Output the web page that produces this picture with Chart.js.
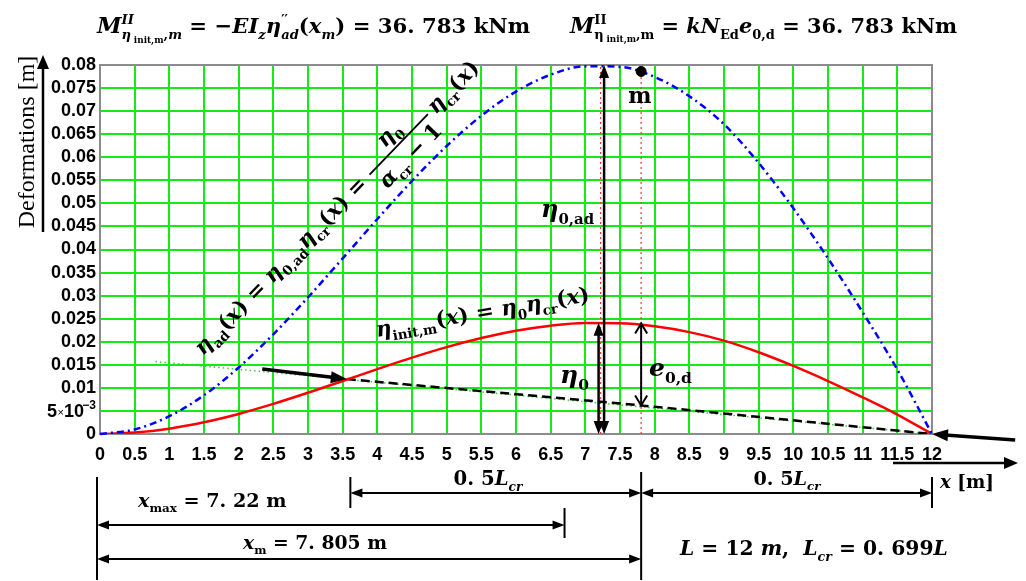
<!DOCTYPE html>
<html>
<head>
<meta charset="utf-8">
<script src="https://cdn.jsdelivr.net/npm/chart.js@4.4.0/dist/chart.umd.min.js"></script>
<style>
  html, body { margin: 0; padding: 0; background: #fff; }
  #chart { display: block; }
</style>
</head>
<body>
<canvas id="chart" width="1026" height="581"></canvas>
<script>
// beam coordinate [m], one sample every 0.5 m
const xValues = [0, 0.5, 1, 1.5, 2, 2.5, 3, 3.5, 4, 4.5, 5, 5.5, 6, 6.5, 7, 7.5, 8, 8.5, 9, 9.5, 10, 10.5, 11, 11.5, 12];
// initial imperfection eta_init,m(x) [m] (red)
const etaInit = [0, 0.0003, 0.00116, 0.00254, 0.00435, 0.00652, 0.00894, 0.01148, 0.01406, 0.01655, 0.01883, 0.02081, 0.02239,
  0.02349, 0.02405, 0.02401, 0.02335, 0.02209, 0.02025, 0.01773, 0.01476, 0.01148, 0.00796, 0.00422, 0];
// additional deformation eta_ad(x) [m] (blue, dash-dot)
const etaAd = [0, 0.00099, 0.00385, 0.00841, 0.01442, 0.02162, 0.02963, 0.03806, 0.04661, 0.05486, 0.06244, 0.069, 0.07424,
  0.07789, 0.07974, 0.07961, 0.07741, 0.07323, 0.06715, 0.05877, 0.04893, 0.03807, 0.02639, 0.01398, 0];
// straight reference line towards the support (green dots) and its black dashed part
const tangentX = [0.8, 12];
const tangentY = [0.0157, 0];
const dashedX = [3.56, 7.805, 12];
const dashedY = [0.0119, 0.0062, 0];
// point m on the blue curve
const pointMX = [7.805];
const pointMY = [0.0786];
// tick labels ('5×10⁻³' is drawn by hand so the exponent can be raised)
const xTickLabels = ['0', '0.5', '1', '1.5', '2', '2.5', '3', '3.5', '4', '4.5', '5', '5.5', '6', '6.5', '7', '7.5', '8', '8.5',
  '9', '9.5', '10', '10.5', '11', '11.5', '12'];
const yTickLabels = ['0', '5×10⁻³', '0.01', '0.015', '0.02', '0.025', '0.03', '0.035', '0.04', '0.045', '0.05', '0.055', '0.06',
  '0.065', '0.07', '0.075', '0.08'];
// marked positions
const xMax = 7.22;
const xM = 7.805;
const eta0Peak = 0.0241;
const eta0adPeak = 0.08;
// dimension lines under the axis, in x [m] as drawn in the figure
const dimX = [0, 3.611, 6.7, 7.805, 12];

const SERIF = '"DejaVu Serif", "Liberation Serif", serif';
const SANS = '"Liberation Sans", Arial, sans-serif';

// ---- small rich-text helper: runs are [text, style, scale, dy(em), stackOnPrevious]
function fontOf(run, size) {
  const f = run[1] || '';
  const px = Math.round(size * (run[2] || 1) * 10) / 10;
  return (f.includes('i') ? 'italic ' : '') + (f.includes('b') ? 'bold ' : '') + px + 'px ' + SERIF;
}

function layoutRich(ctx, runs, size) {
  let cx = 0, last = 0, end = 0;
  const items = [];
  runs.forEach(r => {
    const font = fontOf(r, size);
    ctx.font = font;
    const w = ctx.measureText(r[0]).width;
    if (r[4]) cx = last;
    last = cx;
    items.push({ t: r[0], x: cx, font: font, dy: (r[3] || 0) * size });
    cx += w;
    end = Math.max(end, cx);
    cx = end;
  });
  return { items: items, width: end };
}

function drawRich(ctx, x, y, runs, size, align) {
  const L = layoutRich(ctx, runs, size);
  const ox = align === 'center' ? x - L.width / 2 : (align === 'right' ? x - L.width : x);
  ctx.textAlign = 'left';
  ctx.textBaseline = 'alphabetic';
  ctx.fillStyle = '#000';
  L.items.forEach(it => {
    ctx.font = it.font;
    ctx.fillText(it.t, ox + it.x, y + it.dy);
  });
  return L.width;
}

// same, but the font size is chosen so the text spans the given width
function drawFit(ctx, x, y, runs, width, align) {
  const n = layoutRich(ctx, runs, 20).width;
  return drawRich(ctx, x, y, runs, 20 * width / n, align);
}

// sub / sup shorthands
const SUB = 0.62, SD = 0.28, SU = -0.42;

const formula1 = [
  ['M', 'bi', 1.05], ['II', 'bi', SUB, SU], ['η', 'bi', SUB, SD, true], ['init,m', 'b', 0.42, 0.45], [',', 'b', SUB, SD], ['m', 'bi', SUB, SD],
  [' = −', 'b'], ['EI', 'bi'], ['z', 'bi', SUB, SD], ['η', 'bi'], ['′′', 'b', SUB, SU], ['ad', 'bi', SUB, SD, true],
  ['(', 'b'], ['x', 'bi'], ['m', 'bi', SUB, SD], [')', 'b'], [' = 36. 783 kNm', 'b']
];
const formula2 = [
  ['M', 'bi', 1.05], ['II', 'b', SUB, SU], ['η', 'b', SUB, SD, true], ['init,m', 'b', 0.42, 0.45], [',m', 'b', SUB, SD],
  [' = ', 'b'], ['kN', 'bi'], ['Ed', 'b', SUB, SD], ['e', 'bi'], ['0,d', 'b', SUB, SD], [' = 36. 783 kNm', 'b']
];
const blueLabelA = [
  ['η', 'bi'], ['ad', 'b', SUB, SD], ['(', 'b'], ['x', 'bi'], [')', 'b'], [' = ', 'b'],
  ['η', 'bi'], ['0,ad', 'b', SUB, SD], ['η', 'bi'], ['cr', 'b', SUB, SD], ['(', 'b'], ['x', 'bi'], [')', 'b'], [' = ', 'b']
];
const blueNum = [['η', 'bi'], ['0', 'b', SUB, SD]];
const blueDen = [['α', 'bi'], ['cr', 'b', SUB, SD], [' − 1', 'b']];
const blueLabelB = [['η', 'bi'], ['cr', 'b', SUB, SD], ['(', 'b'], ['x', 'bi'], [')', 'b']];
const redLabel = [
  ['η', 'bi'], ['init,m', 'b', SUB, SD], ['(', 'b'], ['x', 'bi'], [')', 'b'], [' = ', 'b'],
  ['η', 'bi'], ['0', 'b', SUB, SD], ['η', 'bi'], ['cr', 'b', SUB, SD], ['(', 'b'], ['x', 'bi'], [')', 'b']
];
const halfLcr = [['0. 5', 'b'], ['L', 'bi'], ['cr', 'bi', SUB, SD]];

// ---- arrows
function arrowHead(ctx, x, y, ang, len, hw, open) {
  const bx = x - len * Math.cos(ang), by = y - len * Math.sin(ang);
  const nx = -Math.sin(ang) * hw, ny = Math.cos(ang) * hw;
  ctx.beginPath();
  ctx.moveTo(bx + nx, by + ny);
  ctx.lineTo(x, y);
  ctx.lineTo(bx - nx, by - ny);
  if (open) {
    ctx.stroke();
  } else {
    ctx.closePath();
    ctx.fill();
  }
}

function arrow(ctx, x1, y1, x2, y2, o) {
  o = o || {};
  const w = o.width || 2, len = o.head || 12, hw = o.headW || 5;
  const ang = Math.atan2(y2 - y1, x2 - x1);
  const cut = o.open ? 0 : len * 0.8;
  ctx.save();
  ctx.strokeStyle = '#000';
  ctx.fillStyle = '#000';
  ctx.lineWidth = w;
  ctx.lineCap = 'butt';
  ctx.beginPath();
  ctx.moveTo(x1 + (o.both ? cut * Math.cos(ang) : 0), y1 + (o.both ? cut * Math.sin(ang) : 0));
  ctx.lineTo(x2 - cut * Math.cos(ang), y2 - cut * Math.sin(ang));
  ctx.stroke();
  ctx.lineWidth = Math.min(w, 2);
  arrowHead(ctx, x2, y2, ang, len, hw, o.open);
  if (o.both) arrowHead(ctx, x1, y1, ang + Math.PI, len, hw, o.open);
  ctx.restore();
}

function vline(ctx, x, y1, y2, w) {
  ctx.save();
  ctx.strokeStyle = '#000';
  ctx.lineWidth = w || 2;
  ctx.beginPath();
  ctx.moveTo(x, y1);
  ctx.lineTo(x, y2);
  ctx.stroke();
  ctx.restore();
}

// ---- plugin: frame, markers, arrows and all formula texts
const overlay = {
  id: 'overlay',
  beforeDatasetsDraw(chart) {
    const { ctx, chartArea: a } = chart;
    ctx.save();
    ctx.strokeStyle = '#8c8c8c';
    ctx.lineWidth = 2;
    ctx.strokeRect(a.left, a.top, a.right - a.left, a.bottom - a.top);
    // red dotted verticals at x_max and x_m
    const px = v => chart.scales.x.getPixelForValue(v);
    const py = v => chart.scales.y.getPixelForValue(v);
    ctx.strokeStyle = '#ff3030';
    ctx.lineWidth = 1.2;
    ctx.setLineDash([2, 3]);
    ctx.beginPath();
    ctx.moveTo(px(xMax), py(0));
    ctx.lineTo(px(xMax), py(eta0adPeak));
    ctx.moveTo(px(xM), py(0));
    ctx.lineTo(px(xM), py(pointMY[0]));
    ctx.stroke();
    ctx.restore();
  },
  afterDraw(chart) {
    const ctx = chart.ctx;
    const px = v => chart.scales.x.getPixelForValue(v);
    const py = v => chart.scales.y.getPixelForValue(v);
    const y0 = py(0);

    // 0) the 5×10^-3 tick label with a raised exponent
    const yt = py(0.005) + 6.5;
    ctx.save();
    ctx.fillStyle = '#000';
    ctx.textBaseline = 'alphabetic';
    ctx.textAlign = 'right';
    ctx.font = 'bold 12px ' + SANS;
    ctx.fillText('−3', 96, yt - 8);
    ctx.font = 'bold 18px ' + SANS;
    ctx.fillText('10', 84, yt);
    ctx.font = '11px ' + SANS;
    ctx.fillText('×', 64, yt - 1);
    ctx.font = 'bold 18px ' + SANS;
    ctx.fillText('5', 57, yt);
    ctx.restore();

    // 1) eta_0,ad and eta_0 arrows at x_max
    arrow(ctx, px(xMax) + 3.5, y0, px(xMax) + 3.5, py(eta0adPeak), { width: 2.5, head: 13, headW: 5, both: true });
    arrow(ctx, px(xMax) - 2, y0, px(xMax) - 2, py(eta0Peak), { width: 2.5, head: 13, headW: 5, both: true });

    // 2) e_0,d between red curve and dashed line at x_m
    arrow(ctx, px(xM), py(0.02395), px(xM), py(dashedY[1]), { width: 2, head: 10, headW: 6, both: true, open: true });

    // 3) thick pointer arrows to the intersection and to the support
    arrow(ctx, px(2.34), py(0.0141), px(dashedX[0]), py(dashedY[0]), { width: 3.5, head: 16, headW: 6 });
    arrow(ctx, px(13.2), py(-0.0013), px(12), py(0), { width: 3.5, head: 16, headW: 6 });

    // 4) axis arrows and axis titles
    arrow(ctx, 893, 463, 1018, 463, { width: 2.5, head: 14, headW: 6 });
    arrow(ctx, 43, 232, 43, 55, { width: 2.5, head: 14, headW: 6 });
    drawFit(ctx, 940, 488, [['x', 'bi'], [' [m]', 'b']], 54);
    ctx.save();
    ctx.translate(34, 142);
    ctx.rotate(-Math.PI / 2);
    ctx.font = '24px "Liberation Serif", serif';
    ctx.fillStyle = '#000';
    ctx.textAlign = 'center';
    ctx.textBaseline = 'alphabetic';
    ctx.fillText('Deformations [m]', 0, 0);
    ctx.restore();

    // 5) formulas on top
    drawFit(ctx, 97, 33, formula1, 433);
    drawFit(ctx, 570, 33, formula2, 387);

    // 6) labels inside the plot
    drawRich(ctx, 541, 217, [['η', 'bi'], ['0,ad', 'b', SUB, SD]], 24);
    drawRich(ctx, 560, 383, [['η', 'bi'], ['0', 'b', SUB, SD]], 25);
    drawRich(ctx, 649, 376, [['e', 'bi'], ['0,d', 'b', SUB, SD]], 25);
    drawRich(ctx, 640, 103, [['m', 'b']], 22, 'center');

    ctx.save();
    ctx.translate(377, 337);
    ctx.rotate(-9.5 * Math.PI / 180);
    drawFit(ctx, 0, 0, redLabel, 216);
    ctx.restore();

    // blue label: size picked so the whole line (with the fraction) is ~400 px long
    const nat = layoutRich(ctx, blueLabelA, 20).width + layoutRich(ctx, blueDen, 20).width + 10 +
      layoutRich(ctx, blueLabelB, 20).width;
    const size = 20 * 400 / nat;
    ctx.save();
    ctx.translate(203, 356);
    ctx.rotate(-46 * Math.PI / 180);
    let cx = drawRich(ctx, 0, 0, blueLabelA, size);
    const fw = Math.max(layoutRich(ctx, blueNum, size).width, layoutRich(ctx, blueDen, size).width) + 6;
    drawRich(ctx, cx + fw / 2, -0.62 * size, blueNum, size, 'center');
    drawRich(ctx, cx + fw / 2, 0.78 * size, blueDen, size, 'center');
    ctx.fillRect(cx + 1, -0.33 * size, fw - 2, 1.8);
    cx += fw + 4;
    drawRich(ctx, cx, 0, blueLabelB, size);
    ctx.restore();

    // 7) dimension lines below the axis
    const d = dimX.map(px);
    vline(ctx, d[0] - 3, 477, 580);
    vline(ctx, d[1], 477, 508);
    vline(ctx, d[3], 472, 580);
    vline(ctx, d[4], 477, 508);
    vline(ctx, d[2], 508, 538);
    arrow(ctx, d[1], 493, d[3], 493, { width: 2, head: 12, headW: 4.5, both: true });
    arrow(ctx, d[3], 493, d[4], 493, { width: 2, head: 12, headW: 4.5, both: true });
    arrow(ctx, d[0] - 3, 525, d[2], 525, { width: 2, head: 12, headW: 4.5, both: true });
    arrow(ctx, d[0] - 3, 559, d[3], 559, { width: 2, head: 12, headW: 4.5, both: true });
    drawFit(ctx, 488, 485, halfLcr, 69, 'center');
    drawFit(ctx, 787, 485, halfLcr, 67, 'center');
    drawFit(ctx, 138, 507, [['x', 'bi'], ['max', 'b', SUB, SD], [' = 7. 22 m', 'b']], 149);
    drawFit(ctx, 243, 549, [['x', 'bi'], ['m', 'b', SUB, SD], [' = 7. 805 m', 'b']], 144);
    drawFit(ctx, 680, 555, [['L', 'bi'], [' = 12 ', 'b'], ['m', 'bi'], [',  ', 'b'], ['L', 'bi'], ['cr', 'bi', SUB, SD],
      [' = 0. 699', 'b'], ['L', 'bi']], 268);
  }
};

function points(xs, ys) {
  return xs.map((x, i) => ({ x: x, y: ys[i] }));
}

const gridGreen = 'rgb(20,235,20)';

new Chart(document.getElementById('chart').getContext('2d'), {
  type: 'line',
  data: {
    datasets: [
      {
        data: points(tangentX, tangentY),
        borderColor: 'rgba(40,200,40,0.9)', borderWidth: 1.5, borderDash: [1.5, 3],
        pointRadius: 0, order: 5
      },
      {
        data: points(dashedX, dashedY),
        borderColor: '#000', borderWidth: 2.5, borderDash: [9, 5],
        pointRadius: 0, order: 4
      },
      {
        data: points(xValues, etaInit),
        borderColor: '#ff0000', borderWidth: 2.5, pointRadius: 0,
        cubicInterpolationMode: 'monotone', order: 3
      },
      {
        data: points(xValues, etaAd),
        borderColor: '#0000ff', borderWidth: 2.5, borderDash: [7, 4, 2, 4], pointRadius: 0,
        cubicInterpolationMode: 'monotone', clip: false, order: 2
      },
      {
        type: 'scatter',
        data: points(pointMX, pointMY),
        backgroundColor: '#000', borderColor: '#000', pointRadius: 5, order: 1
      }
    ]
  },
  options: {
    responsive: false,
    animation: false,
    layout: { padding: { left: 0, top: 65, right: 94, bottom: 107 } },
    plugins: {
      legend: { display: false },
      tooltip: { enabled: false }
    },
    scales: {
      x: {
        type: 'linear',
        min: 0,
        max: 12,
        afterFit: s => { s.height = 40; },
        grid: { color: gridGreen, lineWidth: 2, drawTicks: false },
        border: { color: '#8c8c8c', width: 2 },
        ticks: {
          stepSize: 0.5,
          autoSkip: false,
          maxRotation: 0,
          minRotation: 0,
          padding: 10,
          color: '#000',
          font: { family: SANS, weight: 'bold', size: 18 },
          callback: (v, i) => xTickLabels[i]
        }
      },
      y: {
        min: 0,
        max: 0.08,
        afterFit: s => { s.width = 100; },
        grid: { color: gridGreen, lineWidth: 2, drawTicks: false },
        border: { color: '#8c8c8c', width: 2 },
        ticks: {
          stepSize: 0.005,
          autoSkip: false,
          padding: 4,
          color: '#000',
          font: { family: SANS, weight: 'bold', size: 18 },
          callback: (v, i) => (yTickLabels[i].includes('×') ? '' : yTickLabels[i])
        }
      }
    }
  },
  plugins: [overlay]
});
</script>
</body>
</html>
